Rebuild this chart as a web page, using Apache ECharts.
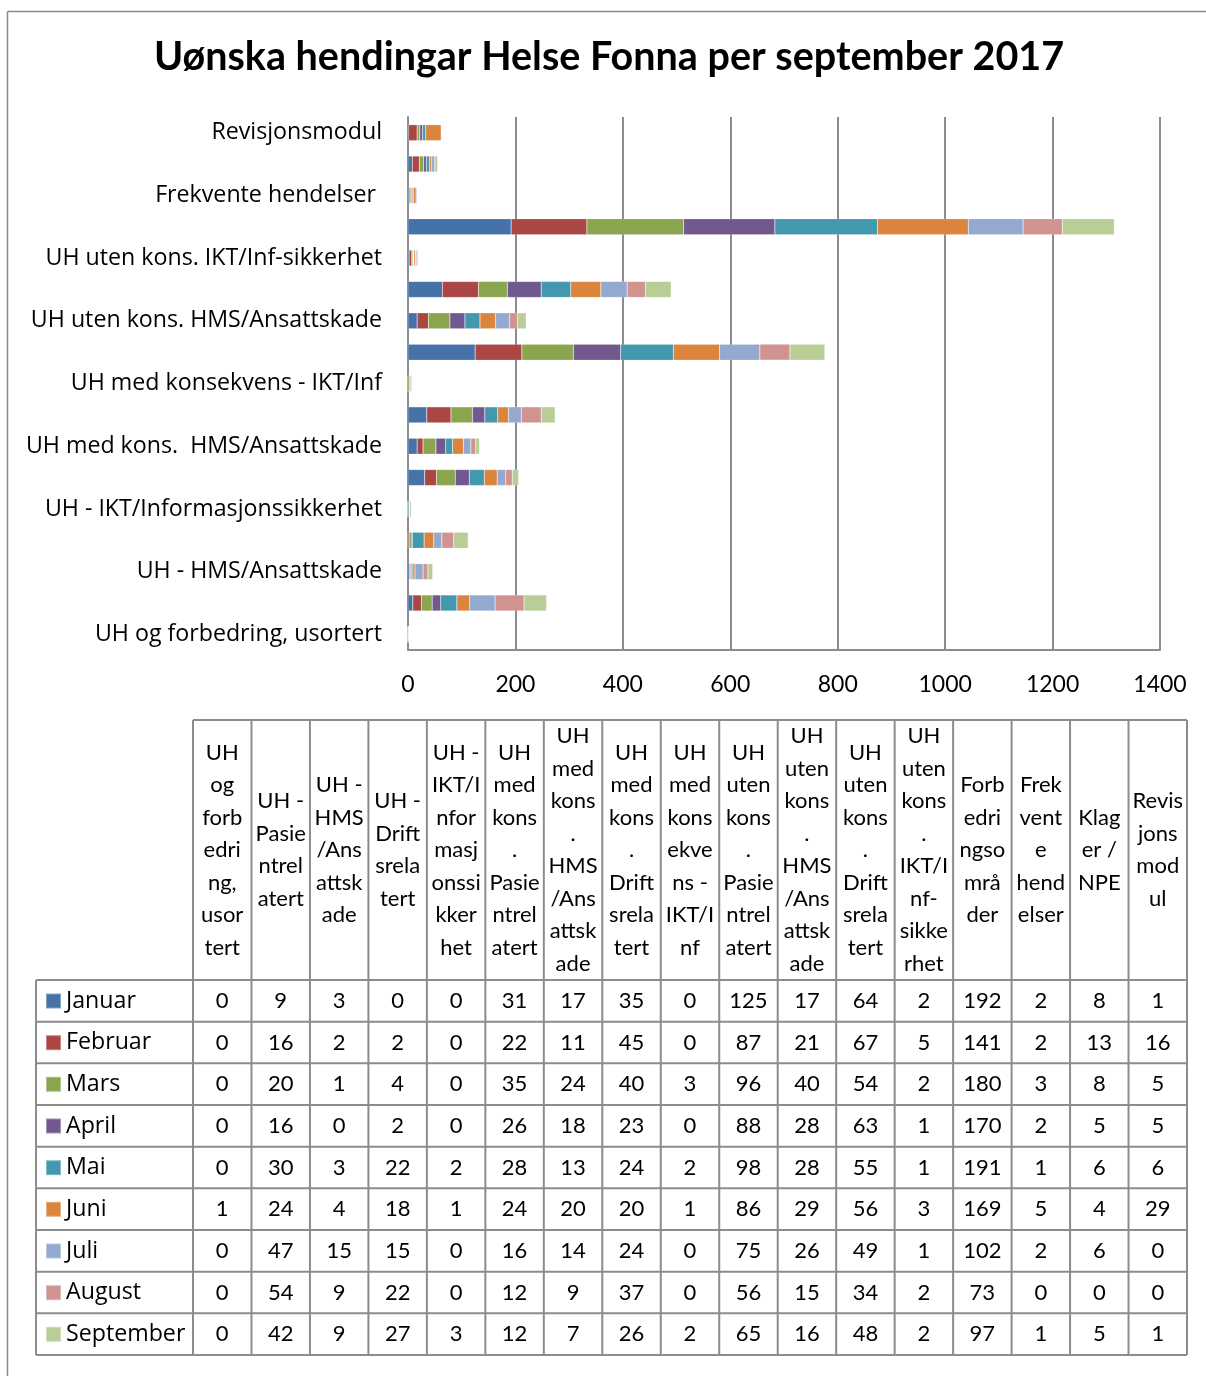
<!DOCTYPE html>
<html>
<head>
<meta charset="utf-8">
<script src="https://cdn.jsdelivr.net/npm/echarts@6/dist/echarts.min.js"></script>
<style>
html,body{margin:0;padding:0;background:#fff;}
#chart{width:1206px;height:1376px;}
</style>
</head>
<body>
<div id="chart"></div>
<script>
const categories = ['UH og forbedring, usortert','UH - Pasientrelatert','UH - HMS/Ansattskade','UH - Driftsrelatert','UH - IKT/Informasjonssikkerhet','UH med kons. Pasientrelatert','UH med kons.  HMS/Ansattskade','UH med kons. Driftsrelatert','UH med konsekvens - IKT/Inf','UH uten kons. Pasientrelatert','UH uten kons. HMS/Ansattskade','UH uten kons. Driftsrelatert','UH uten kons. IKT/Inf-sikkerhet','Forbedringsområder','Frekvente hendelser ','Klager / NPE','Revisjonsmodul'];
const headerLines = [
  'UH\nog\nforb\nedri\nng,\nusor\ntert',
  'UH -\nPasie\nntrel\natert',
  'UH -\nHMS\n/Ans\nattsk\nade',
  'UH -\nDrift\nsrela\ntert',
  'UH -\nIKT/I\nnfor\nmasj\nonssi\nkker\nhet',
  'UH\nmed\nkons\n.\nPasie\nntrel\natert',
  'UH\nmed\nkons\n.\nHMS\n/Ans\nattsk\nade',
  'UH\nmed\nkons\n.\nDrift\nsrela\ntert',
  'UH\nmed\nkons\nekve\nns -\nIKT/I\nnf',
  'UH\nuten\nkons\n.\nPasie\nntrel\natert',
  'UH\nuten\nkons\n.\nHMS\n/Ans\nattsk\nade',
  'UH\nuten\nkons\n.\nDrift\nsrela\ntert',
  'UH\nuten\nkons\n.\nIKT/I\nnf-\nsikke\nrhet',
  'Forb\nedri\nngso\nmrå\nder',
  'Frek\nvent\ne\nhend\nelser',
  'Klag\ner /\nNPE',
  'Revis\njons\nmod\nul'
];
const months = ['Januar','Februar','Mars','April','Mai','Juni','Juli','August','September'];
const januar    = [0, 9, 3, 0, 0, 31, 17, 35, 0, 125, 17, 64, 2, 192, 2, 8, 1];
const februar   = [0, 16, 2, 2, 0, 22, 11, 45, 0, 87, 21, 67, 5, 141, 2, 13, 16];
const mars      = [0, 20, 1, 4, 0, 35, 24, 40, 3, 96, 40, 54, 2, 180, 3, 8, 5];
const april     = [0, 16, 0, 2, 0, 26, 18, 23, 0, 88, 28, 63, 1, 170, 2, 5, 5];
const mai       = [0, 30, 3, 22, 2, 28, 13, 24, 2, 98, 28, 55, 1, 191, 1, 6, 6];
const juni      = [1, 24, 4, 18, 1, 24, 20, 20, 1, 86, 29, 56, 3, 169, 5, 4, 29];
const juli      = [0, 47, 15, 15, 0, 16, 14, 24, 0, 75, 26, 49, 1, 102, 2, 6, 0];
const august    = [0, 54, 9, 22, 0, 12, 9, 37, 0, 56, 15, 34, 2, 73, 0, 0, 0];
const september = [0, 42, 9, 27, 3, 12, 7, 26, 2, 65, 16, 48, 2, 97, 1, 5, 1];
const xTicks = [0, 200, 400, 600, 800, 1000, 1200, 1400];
const title = 'Uønska hendingar Helse Fonna per september 2017';

const seriesValues = [januar, februar, mars, april, mai, juni, juli, august, september];
const colors = ['#4572A7','#AA4643','#89A54E','#71588F','#4198AF','#DB843D','#93A9CF','#D19392','#B9CD96'];
const FONT = 'Lato, "Noto Sans", sans-serif';
const FONT2 = '"Open Sans", Lato, sans-serif';
const LINE = '#8c8c8c';

const chart = echarts.init(document.getElementById('chart'), null, {renderer: 'canvas'});

// table layout
const tL = 36, tC = 193, tR = 1187, hTop = 720, hBot = 980, rowH = (1355 - 980) / 9;
const colW = (tR - tC) / categories.length;
const g = [];
// outer frame of chart area
g.push({type:'line', shape:{x1:7.5,y1:11.5,x2:1206,y2:11.5}, style:{stroke:'#8a8a8a', lineWidth:1.5}, silent:true});
g.push({type:'line', shape:{x1:7.5,y1:11.5,x2:7.5,y2:1376}, style:{stroke:'#8a8a8a', lineWidth:1.5}, silent:true});
// header
g.push({type:'line', shape:{x1:tC,y1:hTop,x2:tR,y2:hTop}, style:{stroke:LINE,lineWidth:2}, silent:true});
for (let r = 0; r <= months.length; r++) {
  const y = hBot + r * rowH;
  g.push({type:'line', shape:{x1:tL,y1:y,x2:tR,y2:y}, style:{stroke:LINE,lineWidth:2}, silent:true});
}
g.push({type:'line', shape:{x1:tL,y1:hBot,x2:tL,y2:hBot + months.length*rowH}, style:{stroke:LINE,lineWidth:2}, silent:true});
for (let c = 0; c <= categories.length; c++) {
  const x = tC + c * colW;
  g.push({type:'line', shape:{x1:x,y1:hTop,x2:x,y2:hBot + months.length*rowH}, style:{stroke:LINE,lineWidth:2}, silent:true});
}
headerLines.forEach((t, c) => {
  g.push({type:'text', x: tC + (c + 0.5) * colW, y: (hTop + hBot) / 2,
    style:{text:t, font:'22px ' + FONT, fill:'#000', textAlign:'center', textVerticalAlign:'middle', lineHeight:32.5}, silent:true});
});
seriesValues.forEach((vals, r) => {
  vals.forEach((v, c) => {
    g.push({type:'text', x: tC + (c + 0.5) * colW, y: hBot + (r + 0.5) * rowH,
      style:{text:String(v), font:'22px ' + FONT, fill:'#000', textAlign:'center', textVerticalAlign:'middle'}, silent:true});
  });
});

const option = {
  animation: false,
  color: colors,
  textStyle: {fontFamily: FONT},
  title: {text: title, left: 604, top: 32, textAlign: 'center',
    textStyle: {fontSize: 39.5, fontWeight: 'bold', color: '#000', fontFamily: FONT}},
  legend: {
    data: months, orient: 'vertical', left: 45, top: 988, padding: 0,
    itemWidth: 15, itemHeight: 15, itemGap: rowH - 26, icon: 'rect',
    textStyle: {fontSize: 23.2, lineHeight: 26, color: '#000', fontFamily: FONT2, padding: [0,0,0,0]},
    selectedMode: false
  },
  grid: {left: 408, right: 46, top: 117, bottom: 726, containLabel: false},
  xAxis: {
    type: 'value', min: xTicks[0], max: xTicks[xTicks.length-1], interval: xTicks[1]-xTicks[0],
    axisLine: {show: true, lineStyle: {color: LINE, width: 2}},
    axisTick: {show: false},
    splitLine: {show: true, lineStyle: {color: LINE, width: 2}},
    axisLabel: {fontSize: 23, color: '#000', margin: 23, fontFamily: FONT, formatter: v => String(v)}
  },
  yAxis: {
    type: 'category', data: categories,
    axisLine: {show: true, lineStyle: {color: LINE, width: 2}},
    axisTick: {show: false},
    axisLabel: {interval: 1, fontSize: 23.2, color: '#000', margin: 26, fontFamily: FONT2}
  },
  series: months.map((m, i) => ({
    name: m, type: 'bar', stack: 'total', barWidth: 16, data: seriesValues[i],
    itemStyle: {color: colors[i], borderColor: 'rgba(255,255,255,0.35)', borderWidth: 0.5}
  })),
  graphic: g
};
chart.setOption(option);
</script>
</body>
</html>
